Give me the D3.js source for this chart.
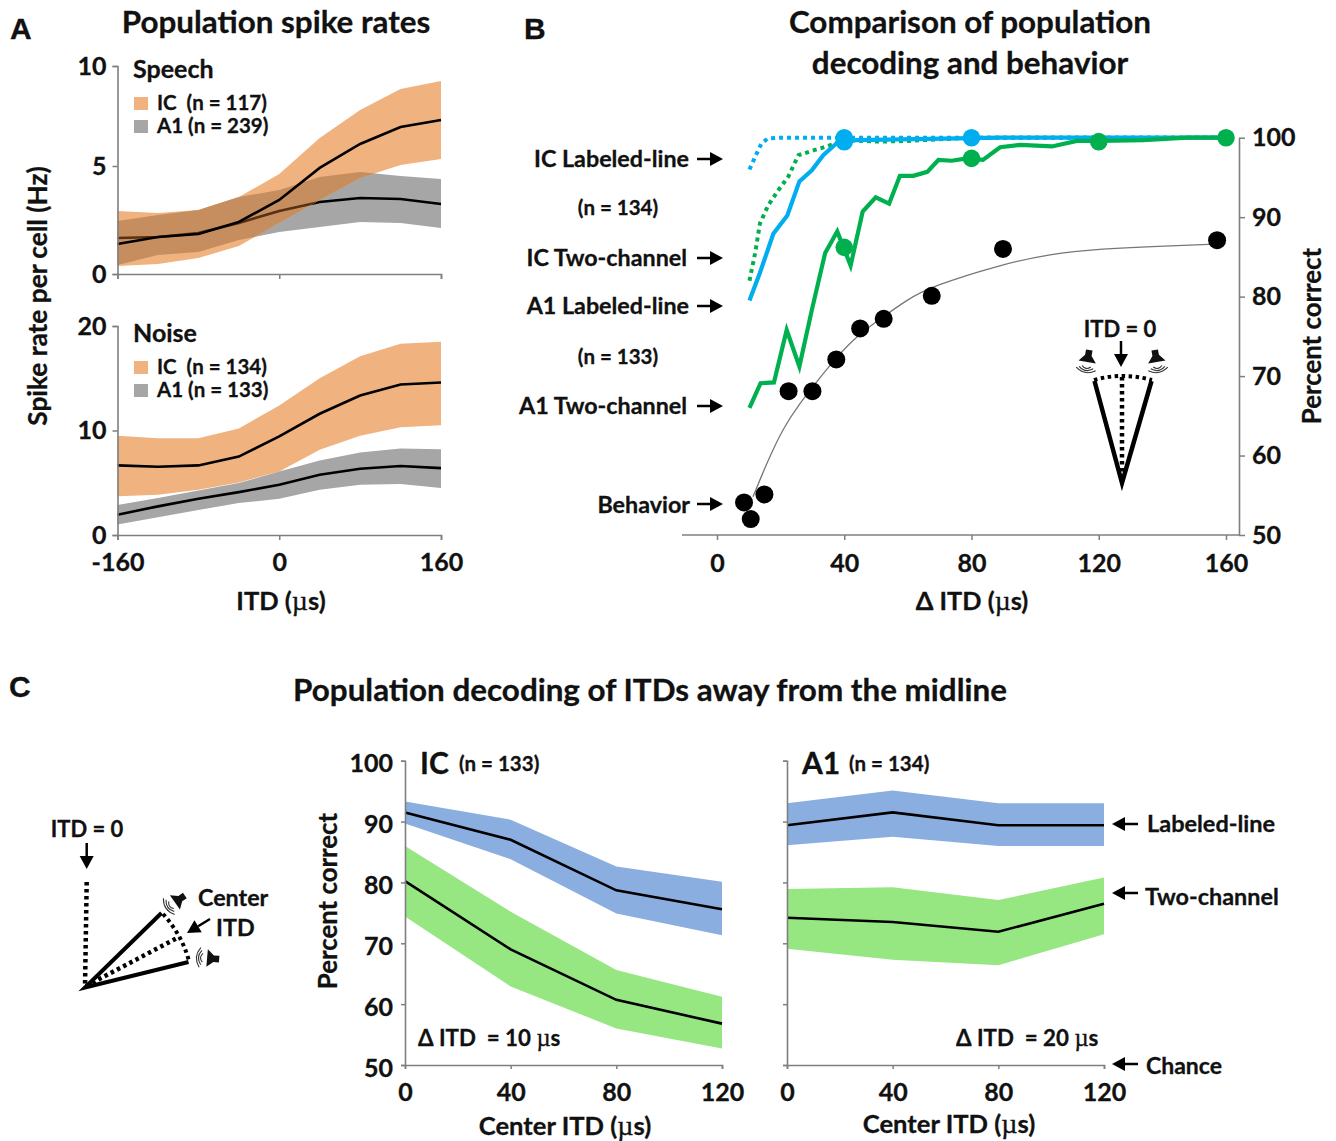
<!DOCTYPE html>
<html>
<head>
<meta charset="utf-8">
<script src="https://cdn.jsdelivr.net/npm/d3@7"></script>
<style>
html,body{margin:0;padding:0;background:#fff;}
svg{display:block;}
text{font-family:Lato,"Open Sans",sans-serif;font-weight:700;fill:#111;stroke:#111;stroke-width:.3;white-space:pre;}
.tick text{font-size:25px;}
.mu{font-family:"Liberation Serif",serif;font-weight:400;}
</style>
</head>
<body>
<svg id="fig" width="1336" height="1141"></svg>
<script>
// panel A: spike rates
const itd=[-160,-120,-80,-40,0,40,80,120,160];
const spIcMean=[1.39,1.71,1.85,2.41,3.43,4.91,6.1,6.95,7.3];
const spIcHi=[2.92,2.82,2.96,3.56,4.63,6.4,7.8,8.85,9.25];
const spIcLo=[0.37,0.46,0.74,1.3,2.36,3.43,4.44,5.05,5.35];
const spA1Mean=[1.67,1.71,1.9,2.36,2.92,3.33,3.52,3.47,3.24];
const spA1Hi=[2.45,2.73,2.96,3.56,3.89,4.49,4.72,4.54,4.4];
const spA1Lo=[0.42,0.88,1.02,1.57,1.94,2.18,2.41,2.36,2.13];
const noIcMean=[6.66,6.53,6.66,7.5,9.43,11.6,13.35,14.4,14.6];
const noIcHi=[9.5,9.27,9.27,10.2,12.4,15,17.1,18.3,18.5];
const noIcLo=[3.7,3.85,4.33,5.03,6.08,8.15,9.5,10.3,10.5];
const noA1Mean=[1.94,2.74,3.47,4.1,4.8,5.76,6.34,6.6,6.4];
const noA1Hi=[2.87,3.53,4.27,4.97,6.08,7.13,7.9,8.28,8.2];
const noA1Lo=[1,1.7,2.4,3.06,3.47,4.33,4.8,4.87,4.5];

// panel B: decoding vs behavior, [delta itd, percent]
const icLabeled=[[10.2,96],[12,97.6],[14,99.3],[16,99.9],[20,100],[40,100],[80,100],[120,100],[160,100]];
const icTwoChan=[[10.2,82],[12,85.5],[13.5,89.2],[16.1,91.5],[19.3,93.4],[22.4,95.1],[25.6,97.8],[30.3,98.4],[34.5,98.9],[40,99.7],[51.3,99.5],[60,99.6],[80,100],[160,100]];
const a1Labeled=[[10.2,79.5],[13.5,83],[17.7,87.9],[22.1,90.2],[25.9,94.5],[29.8,95.9],[33.4,97.8],[37.6,99.3],[40.2,99.6],[43.9,99.7],[89,100],[160,100]];
const a1TwoChan=[[10.2,66],[13.7,69.1],[17.9,69.2],[21.9,75.8],[25.9,71.2],[29.8,78.3],[34,85.5],[37.8,88.2],[42,83.9],[45.8,90.7],[49.9,92.5],[54.1,91.7],[57.5,95.2],[61.7,95.2],[66.1,95.7],[69.6,97.2],[73.8,97.1],[78.5,97.4],[83.6,97.2],[89,98.8],[95.3,99.1],[105.3,98.9],[113.1,99.6],[120.4,99.6],[134,99.7],[147.7,100],[160,100]];
const blueDots=[[40,100],[40,99.5],[80,100]];
const greenDots=[[40,86.2],[80,97.4],[120,99.5],[160,100]];
const behavior=[[8.5,54.1],[10.6,52],[14.9,55.1],[22.5,68.1],[30,68.1],[37.5,72.1],[45,76],[52.4,77.2],[67.5,80.1],[89.9,86],[157.2,87.1]];
const behaviorFit=[[11.3,54.8],[15.7,59.1],[20.8,63.5],[26.1,66.6],[30,68.6],[37.5,72.4],[45,75.4],[52.4,77.5],[59.7,79.6],[67.5,81.3],[89,84],[104.7,85.4],[120.4,86],[141.5,86.4],[157.2,86.6]];

// panel C: center ITD decoding
const centerItd=[0,40,80,120];
const cIcBlue=[91.5,87,78.7,75.6],cIcBlueHi=[93.3,90.3,82.6,80.1],cIcBlueLo=[89.7,83.8,74.9,71.3];
const cIcGreen=[80.2,69,60.7,56.8],cIcGreenHi=[86,75.2,65.6,61.2],cIcGreenLo=[74.4,62.9,56,52.7];
const cA1Blue=[89.4,91.5,89.4,89.4],cA1BlueHi=[93,95.1,93,93],cA1BlueLo=[86.1,87.5,86,86];
const cA1Green=[74.2,73.5,71.9,76.5],cA1GreenHi=[78.9,79.2,77.1,80.8],cA1GreenLo=[69.1,67.3,66.4,71.5];

const svg=d3.select('#fig');
const AXIS='#7f7f7f',ORANGE='#f0b27f',GRAY='#a6a6a6',OVERLAP='#c68e5e',BLUE='#00aeef',GREEN='#00b04f',CBLUE='#8aaee0',CGREEN='#96e682';

function label(x,y,str,size,anchor,rot){
  const t=svg.append('text').attr('font-size',size).attr('text-anchor',anchor||'start');
  if(rot)t.attr('transform',`translate(${x},${y}) rotate(${rot})`);else t.attr('x',x).attr('y',y);
  // the mu sits in a symbol-looking serif in the original
  str.split('µ').forEach((s,i)=>{
    if(i>0)t.append('tspan').attr('class','mu').attr('font-size',size*1.1).text('µ');
    t.append('tspan').text(s);
  });
  return t;
}

function arrow(x1,y1,x2,y2,w){
  const a=Math.atan2(y2-y1,x2-x1),hl=13,hw=7;
  const bx=x2-hl*Math.cos(a),by=y2-hl*Math.sin(a);
  svg.append('line').attr('x1',x1).attr('y1',y1).attr('x2',bx).attr('y2',by).attr('stroke','#000').attr('stroke-width',w||2.5);
  svg.append('path').attr('fill','#000')
    .attr('d',`M${x2},${y2}L${bx-hw*Math.sin(a)},${by+hw*Math.cos(a)}L${bx+hw*Math.sin(a)},${by-hw*Math.cos(a)}Z`);
}

function styleAxis(g){
  g.selectAll('.domain').attr('stroke',AXIS).attr('stroke-width',1.6);
  g.selectAll('.tick line').attr('stroke',AXIS).attr('stroke-width',1.5);
  g.selectAll('.tick text').attr('fill','#111');
}

function bandPath(x,y,xs,hi,lo){
  const area=d3.area().x(d=>x(d[0])).y0(d=>y(d[2])).y1(d=>y(d[1]));
  return area(xs.map((v,i)=>[v,hi[i],lo[i]]));
}
function band(x,y,xs,hi,lo,color){
  return svg.append('path').attr('d',bandPath(x,y,xs,hi,lo)).attr('fill',color);
}
function meanLine(x,y,xs,vals,w,color){
  const line=d3.line().x(d=>x(d[0])).y(d=>y(d[1]));
  return svg.append('path').datum(xs.map((v,i)=>[v,vals[i]])).attr('d',line).attr('fill','none').attr('stroke',color||'#000').attr('stroke-width',w||2.6);
}

// ---------- panel A ----------
const xA=d3.scaleLinear().domain([-160,160]).range([117.5,441]);
const defs=svg.append('defs');
function spikePanel(id,yScale,ticks,sets,showX){
  const y=yScale,y0=y(0);
  defs.append('clipPath').attr('id','a1-'+id).append('path').attr('d',bandPath(xA,y,itd,sets.a1Hi,sets.a1Lo));
  defs.append('clipPath').attr('id','ic-'+id).append('path').attr('d',bandPath(xA,y,itd,sets.icHi,sets.icLo));
  band(xA,y,itd,sets.a1Hi,sets.a1Lo,GRAY);
  meanLine(xA,y,itd,sets.a1Mean);
  band(xA,y,itd,sets.icHi,sets.icLo,ORANGE);
  // overlap of the two bands goes brown, and the A1 line shows through it
  band(xA,y,itd,sets.icHi,sets.icLo,OVERLAP).attr('clip-path',`url(#a1-${id})`);
  meanLine(xA,y,itd,sets.a1Mean,2.6,'#5a3012').attr('clip-path',`url(#ic-${id})`);
  meanLine(xA,y,itd,sets.icMean);
  const ax=svg.append('g').attr('transform',`translate(117.5,0)`)
    .call(d3.axisLeft(y).tickValues(ticks).tickSize(5).tickPadding(6));
  styleAxis(ax);
  const bx=svg.append('g').attr('transform',`translate(0,${y0})`)
    .call(d3.axisBottom(xA).tickValues([-160,0,160]).tickSize(5).tickSizeOuter(5).tickPadding(13).tickFormat(showX?(d=>String(d)):''));
  styleAxis(bx);
}
// the 5 tick in the speech panel does not sit halfway in the original
spikePanel('sp',d3.scaleLinear().domain([0,5,10]).range([274,166,66]),[0,5,10],{icMean:spIcMean,icHi:spIcHi,icLo:spIcLo,a1Mean:spA1Mean,a1Hi:spA1Hi,a1Lo:spA1Lo},false);
spikePanel('no',d3.scaleLinear().domain([0,20]).range([535,326]),[0,10,20],{icMean:noIcMean,icHi:noIcHi,icLo:noIcLo,a1Mean:noA1Mean,a1Hi:noA1Hi,a1Lo:noA1Lo},true);

label(10,39,'A',30).style('font-family','"Liberation Sans",sans-serif');
label(276,33,'Population spike rates',31.4,'middle');
label(133,78,'Speech',25);
label(133,342,'Noise',25);
[[97,'IC  (n = 117)',ORANGE],[120,'A1 (n = 239)',GRAY],[361,'IC  (n = 134)',ORANGE],[384,'A1 (n = 133)',GRAY]].forEach(d=>{
  svg.append('rect').attr('x',134).attr('y',d[0]).attr('width',14).attr('height',13).attr('fill',d[2]);
  label(157,d[0]+13,d[1],20.5);
});
label(47,296,'Spike rate per cell (Hz)',26.3,'middle',-90);
label(281,610,'ITD (µs)',25.5,'middle');

// ---------- panel B ----------
const xB=d3.scaleLinear().domain([0,160]).range([717,1226]);
const yB=d3.scaleLinear().domain([50,100]).range([535,137.7]);
const lineB=d3.line().x(d=>xB(d[0])).y(d=>yB(d[1]));
svg.append('path').datum(behaviorFit).attr('d',lineB.curve(d3.curveBasis)).attr('fill','none').attr('stroke','#777').attr('stroke-width',1.3);
lineB.curve(d3.curveLinear);
svg.append('path').datum(icTwoChan).attr('d',lineB).attr('fill','none').attr('stroke',GREEN).attr('stroke-width',4).attr('stroke-dasharray','4 4');
svg.append('path').datum(icLabeled).attr('d',lineB).attr('fill','none').attr('stroke',BLUE).attr('stroke-width',4).attr('stroke-dasharray','4 4');
svg.append('path').datum(a1Labeled).attr('d',lineB).attr('fill','none').attr('stroke',BLUE).attr('stroke-width',4.2);
svg.append('path').datum(a1TwoChan).attr('d',lineB).attr('fill','none').attr('stroke',GREEN).attr('stroke-width',4.2);
const dots=(data,color,r)=>svg.append('g').selectAll('circle').data(data).join('circle')
  .attr('cx',d=>xB(d[0])).attr('cy',d=>yB(d[1])).attr('r',r).attr('fill',color);
dots(blueDots,BLUE,8.8);
dots(greenDots,GREEN,8.8);
dots(behavior,'#000',9);

const rAxis=svg.append('g').attr('transform','translate(1239,0)')
  .call(d3.axisRight(yB).tickValues([50,60,70,80,90,100]).tickSize(6).tickSizeOuter(0).tickPadding(7));
styleAxis(rAxis);
const bAxis=svg.append('g').attr('transform','translate(0,535)')
  .call(d3.axisBottom(xB).tickValues([0,40,80,120,160]).tickSize(5).tickSizeOuter(0).tickPadding(14));
styleAxis(bAxis);
bAxis.select('.domain').remove();
svg.append('line').attr('x1',682).attr('x2',1239).attr('y1',535).attr('y2',535).attr('stroke',AXIS).attr('stroke-width',1.6);

label(524,39,'B',30).style('font-family','"Liberation Sans",sans-serif');
label(970,33,'Comparison of population',31.4,'middle');
label(970,74,'decoding and behavior',31.4,'middle');
label(972,610,'Δ ITD (µs)',25.3,'middle');
label(1321,336,'Percent correct',25.8,'middle',-90);
[[689,167,'IC Labeled-line',159],[687,266,'IC Two-channel',258],[689,314,'A1 Labeled-line',306],[687,414,'A1 Two-channel',406],[690,513,'Behavior',504]].forEach(d=>{
  label(d[0],d[1],d[2],23.3,'end');
  arrow(697,d[3],723,d[3]);
});
label(618,215,'(n = 134)',20.5,'middle');
label(618,364,'(n = 133)',20.5,'middle');

// speaker glyph, drawn pointing up and then rotated
function speaker(cx,cy,rot){
  const g=svg.append('g').attr('transform',`translate(${cx},${cy}) rotate(${rot}) scale(1.1)`);
  g.append('path').attr('d','M-3,-12L3,-12L3,-7L8,-1L-8,-1L-3,-7Z').attr('fill','#111');
  [2,4.5,7].forEach(r=>{
    g.append('path').attr('d',`M${-r-2},${r*0.5+2}Q0,${r+5} ${r+2},${r*0.5+2}`).attr('fill','none').attr('stroke','#333').attr('stroke-width',1);
  });
}
const DIAG_DOT='3.5 3.5';
function diag(d,w,dash){
  const p=svg.append('path').attr('d',d).attr('fill','none').attr('stroke','#000').attr('stroke-width',w);
  if(dash)p.attr('stroke-dasharray',dash);
}
label(1120,337,'ITD = 0',22,'middle');
arrow(1121,341,1121,367,2.5);
speaker(1087,363,10);
speaker(1157,363,-10);
diag('M1094.5,381L1122,483L1151.5,381',4.5);
diag('M1122,377L1122,480',4.5,DIAG_DOT);
diag('M1094,380Q1122,372 1152,380',4,DIAG_DOT);

// ---------- panel C ----------
const yC=d3.scaleLinear().domain([50,100]).range([1065,760.7]);
function decodePanel(xLeft,xRight,showY,s){
  const x=d3.scaleLinear().domain([0,120]).range([xLeft,xRight]);
  band(x,yC,centerItd,s.bHi,s.bLo,CBLUE);
  band(x,yC,centerItd,s.gHi,s.gLo,CGREEN);
  meanLine(x,yC,centerItd,s.b);
  meanLine(x,yC,centerItd,s.g);
  const l=svg.append('g').attr('transform',`translate(${xLeft},0)`)
    .call(d3.axisLeft(yC).tickValues([50,60,70,80,90,100]).tickSize(4).tickPadding(8).tickFormat(showY?d3.format('d'):''));
  styleAxis(l);
  l.selectAll('.tick text').attr('dy','0.44em');
  const b=svg.append('g').attr('transform','translate(0,1065)')
    .call(d3.axisBottom(x).tickValues(centerItd).tickSize(4).tickPadding(14));
  styleAxis(b);
}
decodePanel(405,722,true,{b:cIcBlue,bHi:cIcBlueHi,bLo:cIcBlueLo,g:cIcGreen,gHi:cIcGreenHi,gLo:cIcGreenLo});
decodePanel(787,1104,false,{b:cA1Blue,bHi:cA1BlueHi,bLo:cA1BlueLo,g:cA1Green,gHi:cA1GreenHi,gLo:cA1GreenLo});

label(9,697,'C',30).style('font-family','"Liberation Sans",sans-serif');
label(650,701,'Population decoding of ITDs away from the midline',31.4,'middle');
label(420,774,'IC',30);
label(459,771,'(n = 133)',20.5);
label(802,774,'A1',30);
label(849,771,'(n = 134)',20.5);
label(337,901,'Percent correct',25.8,'middle',-90);
label(565,1135,'Center ITD (µs)',25.6,'middle');
label(949,1133,'Center ITD (µs)',25.6,'middle');
label(418,1046,'Δ ITD  = 10 µs',22.3);
label(956,1046,'Δ ITD  = 20 µs',22.3);
arrow(1138,824,1112,824);
label(1147,832,'Labeled-line',23.5);
arrow(1138,893,1112,893);
label(1145,905,'Two-channel',23.4);
arrow(1138,1064,1112,1064);
label(1146,1074,'Chance',23);

// off-midline sketch
label(87,837,'ITD = 0',22,'middle');
arrow(86.7,843,86.7,869,2.5);
diag('M86.7,882L85,987',4.5,DIAG_DOT);
diag('M161.5,913L85,987.5L188.5,962',4);
diag('M86,986L179,937',4.5,DIAG_DOT);
diag('M163,914Q182,935 189,961',4,DIAG_DOT);
speaker(174,903,55);
speaker(206,958,95);
label(198,906,'Center',23.3);
label(216,936,'ITD',23.3);
arrow(210,919,187,933,2.5);
</script>
</body>
</html>
